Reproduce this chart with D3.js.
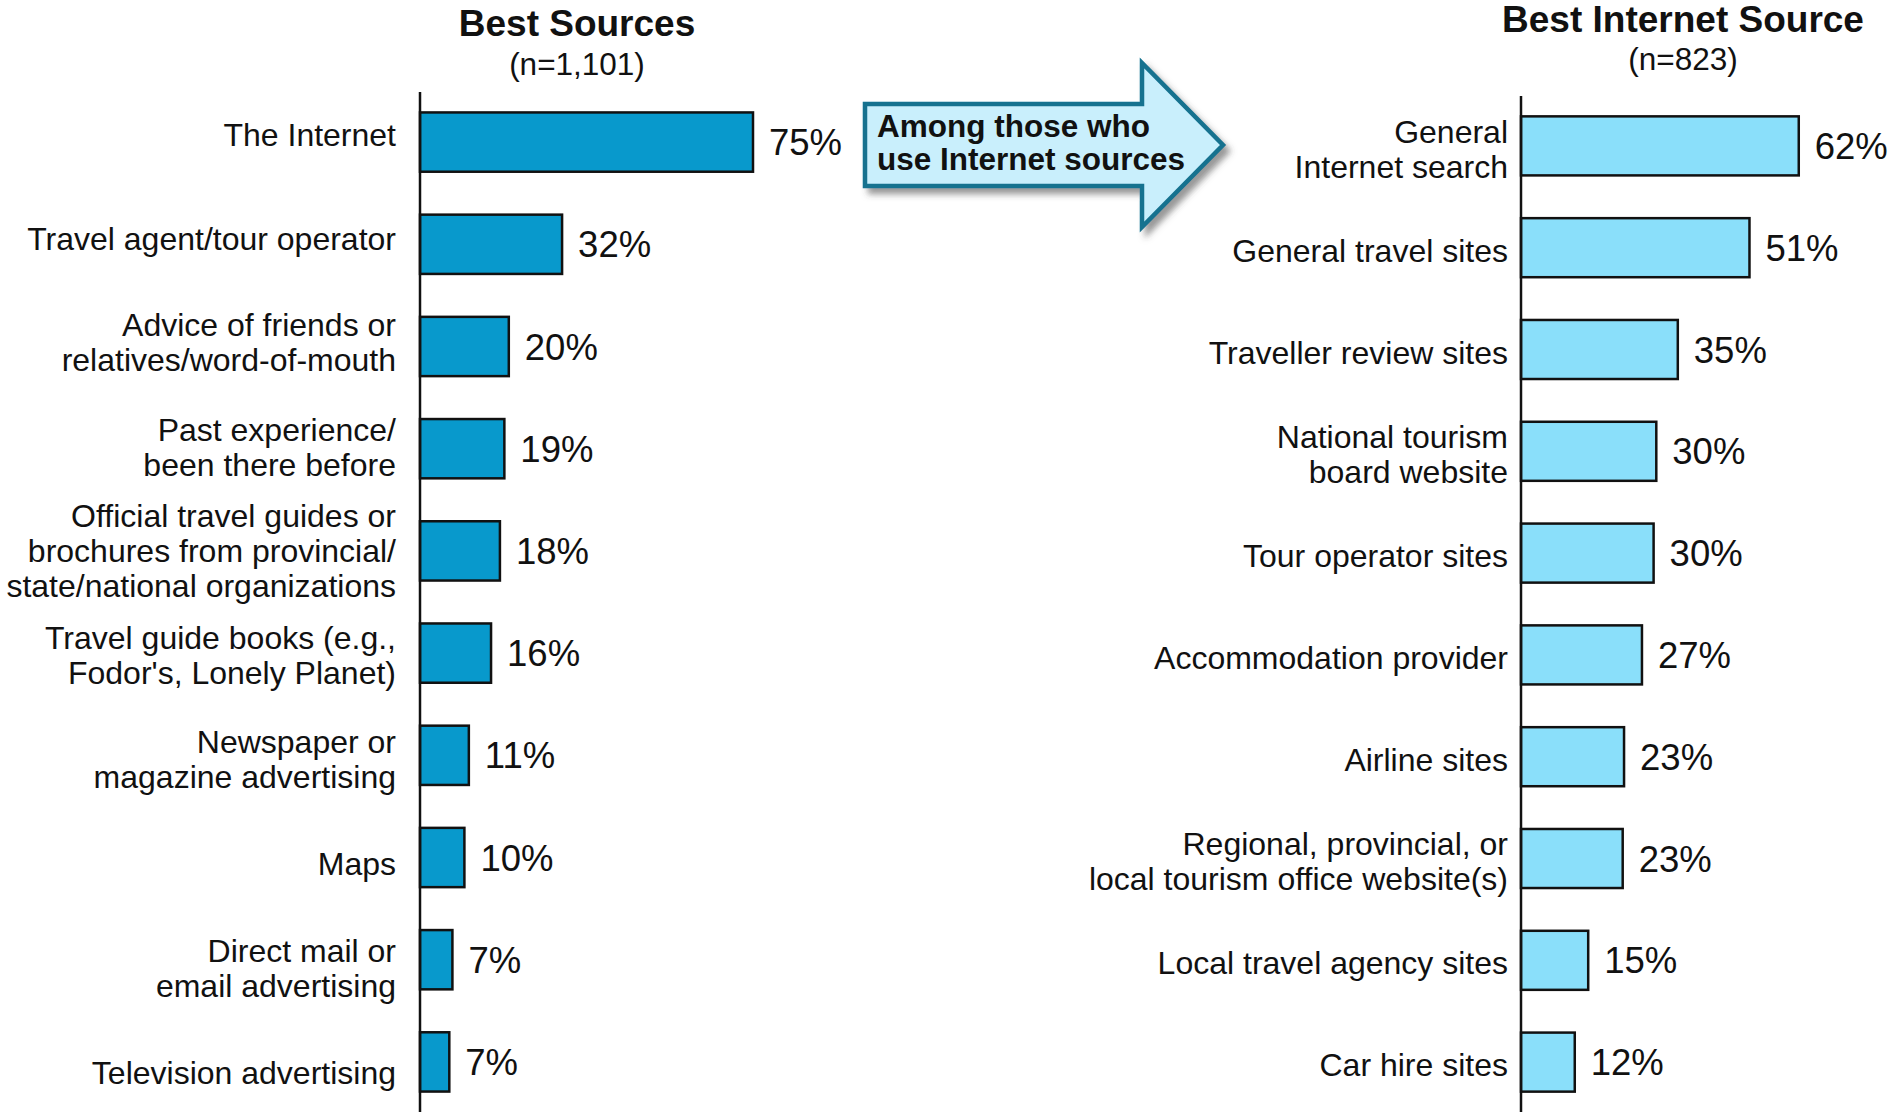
<!DOCTYPE html>
<html lang="en">
<head>
<meta charset="UTF-8">
<title>Best Sources</title>
<script src="https://d3js.org/d3.v7.min.js"></script>
<style>
body{
	margin:0;
	background:#fff;
}
text{
	font-family: 'Liberation Sans', Arial, sans-serif;
	fill:#111;
}
</style>
</head>
<body>
<svg id="chart" width="1895" height="1112"></svg>

<script>
// left panel
const leftCategories = [
  'The Internet',
  'Travel agent/tour operator',
  'Advice of friends or\nrelatives/word-of-mouth',
  'Past experience/\nbeen there before',
  'Official travel guides or\nbrochures from provincial/\nstate/national organizations',
  "Travel guide books (e.g.,\nFodor's, Lonely Planet)",
  'Newspaper or\nmagazine advertising',
  'Maps',
  'Direct mail or\nemail advertising',
  'Television advertising'
];
const leftValues = [75, 32, 20, 19, 18, 16, 11, 10, 7.3, 6.6];

// right panel
const rightCategories = [
  'General\nInternet search',
  'General travel sites',
  'Traveller review sites',
  'National tourism\nboard website',
  'Tour operator sites',
  'Accommodation provider',
  'Airline sites',
  'Regional, provincial, or\nlocal tourism office website(s)',
  'Local travel agency sites',
  'Car hire sites'
];
const rightValues = [62, 51, 35, 30.2, 29.6, 27, 23, 22.7, 15, 12];

const titles = ['Best Sources', 'Best Internet Source'];
const subtitles = ['(n=1,101)', '(n=823)'];
const arrowLines = ['Among those who', 'use Internet sources'];

const svg = d3.select('#chart');

// drop shadow for the arrow
const defs = svg.append('defs');
defs.append('filter').attr('id', 'shadow')
  .attr('x', '-10%').attr('y', '-10%').attr('width', '130%').attr('height', '140%')
  .append('feDropShadow')
  .attr('dx', 5).attr('dy', 6).attr('stdDeviation', 3)
  .attr('flood-color', '#444').attr('flood-opacity', 0.55);

function panel(cfg) {
  const g = svg.append('g');

  const y = d3.scaleBand()
    .domain(cfg.categories)
    .range([cfg.top, 1112])
    .paddingInner(0.42)
    .paddingOuter(0.2);

  // labels sit on their own slightly different pitch
  const yLabel = d3.scalePoint().domain(cfg.categories).range(cfg.labelRange);

  const x = d3.scaleLinear().domain([0, 100]).range([cfg.axisX, cfg.axisX + cfg.pxPer100]);

  const data = cfg.categories.map((c, i) => ({ name: c, value: cfg.values[i] }));

  g.selectAll('rect.bar').data(data).enter().append('rect')
    .attr('class', 'bar')
    .attr('x', x(0))
    .attr('y', d => y(d.name))
    .attr('width', d => x(d.value) - x(0))
    .attr('height', y.bandwidth())
    .attr('fill', cfg.color)
    .attr('stroke', '#111')
    .attr('stroke-width', 2.5);

  // axis line
  g.append('line')
    .attr('x1', cfg.axisX).attr('x2', cfg.axisX)
    .attr('y1', cfg.top).attr('y2', 1112)
    .attr('stroke', '#111').attr('stroke-width', 2.5);

  // category labels
  const lh = 35;
  g.selectAll('text.cat').data(data).enter().append('text')
    .attr('class', 'cat')
    .attr('text-anchor', 'end')
    .attr('font-size', '32px')
    .each(function(d) {
      const lines = d.name.split('\n');
      const cy = yLabel(d.name);
      const t = d3.select(this);
      lines.forEach((ln, i) => {
        t.append('tspan')
          .attr('x', cfg.axisX - cfg.labelGap)
          .attr('y', cy + (i - (lines.length - 1) / 2) * lh)
          .attr('dy', '0.36em')
          .text(ln);
      });
    });

  // value labels
  g.selectAll('text.val').data(data).enter().append('text')
    .attr('class', 'val')
    .attr('x', d => x(d.value) + 16)
    .attr('y', d => y(d.name) + y.bandwidth() / 2)
    .attr('dy', '0.36em')
    .attr('font-size', '36.5px')
    .text(d => Math.round(d.value) + '%');

  g.append('text')
    .attr('x', cfg.titleX).attr('y', cfg.titleY)
    .attr('text-anchor', 'middle')
    .attr('font-size', '37px').attr('font-weight', 'bold')
    .text(cfg.title);

  g.append('text')
    .attr('x', cfg.titleX).attr('y', cfg.subY)
    .attr('text-anchor', 'middle')
    .attr('font-size', '31.5px')
    .text(cfg.subtitle);
}

panel({
  categories: leftCategories, values: leftValues, color: '#0899cc',
  axisX: 420, top: 92, pxPer100: 444, labelGap: 24, labelRange: [134, 1072],
  title: titles[0], subtitle: subtitles[0], titleX: 577, titleY: 36, subY: 75
});

panel({
  categories: rightCategories, values: rightValues, color: '#8adffa',
  axisX: 1521, top: 96, pxPer100: 448, labelGap: 13, labelRange: [149, 1064],
  title: titles[1], subtitle: subtitles[1], titleX: 1683, titleY: 32, subY: 70
});

// arrow callout
const arrow = [
  [865, 104], [1142, 104], [1142, 63], [1223, 145],
  [1142, 227], [1142, 186], [865, 186]
];
svg.append('path')
  .attr('d', d3.line()(arrow) + 'Z')
  .attr('fill', '#c9effc')
  .attr('stroke', '#14728f')
  .attr('stroke-width', 4.5)
  .attr('stroke-linejoin', 'miter')
  .attr('filter', 'url(#shadow)');

svg.append('text')
  .attr('font-size', '31.5px').attr('font-weight', 'bold')
  .selectAll('tspan').data(arrowLines).enter().append('tspan')
  .attr('x', 877)
  .attr('y', (d, i) => 137 + i * 32.5)
  .text(d => d);
</script>
</body>
</html>
